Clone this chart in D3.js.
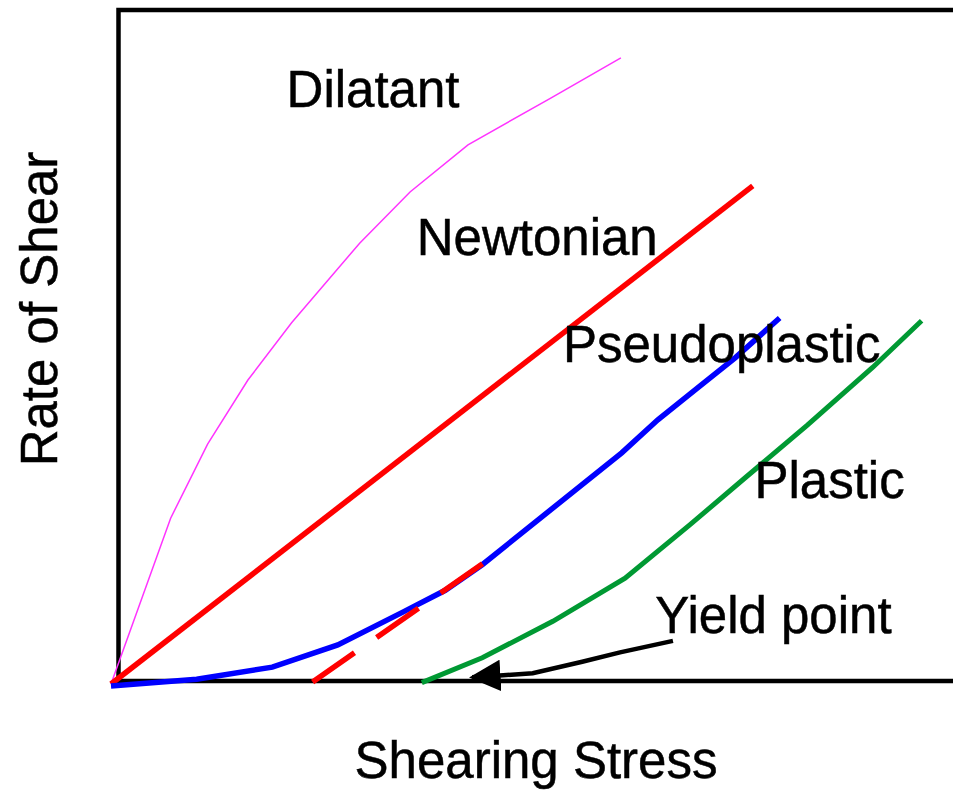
<!DOCTYPE html>
<html>
<head>
<meta charset="utf-8">
<script src="https://cdn.jsdelivr.net/npm/d3@7"></script>
<style>
  body { margin: 0; background: #fff; }
  text { font-family: "Liberation Sans", Arial, sans-serif; fill: #000; stroke: #000; stroke-width: 0.5; }
</style>
</head>
<body>
<div id="chart"></div>
<script>
// Flow curves (stress, rate), both 0..100
var dilatant = [[0,0],[7.1,24.6],[11.5,35.6],[16.3,45.1],[21.5,53.6],[29.6,65.4],
                [35.6,73.0],[42.5,80.0],[52.3,86.9],[60.7,92.9]]
var newtonian = [[0,0],[76.4,73.9]]
var newtonian_ext = [[24.0,0.3],[44.3,17.9]]
var pseudoplastic = [[0,-0.3],[10.2,0.7],[19.2,2.5],[27.0,5.8],[34.8,10.7],[39.8,13.9],
                     [44.2,17.7],[60.8,34.3],[65.1,39.2],[69.8,43.9],[74.3,48.4],[79.6,54.3]]
var plastic = [[37.0,0.2],[44.2,3.9],[52.6,9.3],[61.2,15.7],[68.9,23.6],[75.5,30.6],
               [82.9,38.4],[90.7,47.0],[96.5,53.9]]
var yield_arrow = [[66.9,6.4],[60.6,4.7],[56.1,3.3],[50.2,1.6],[46.7,1.3],[43.0,1.0]]

var labels = [
  {text:"Dilatant", x:20.9, y:85.6},
  {text:"Newtonian", x:36.4, y:63.6},
  {text:"Pseudoplastic", x:53.8, y:47.8},
  {text:"Plastic", x:76.6, y:27.6},
  {text:"Yield point", x:64.8, y:7.5}
]

var width = 953
var height = 791

var x = d3.scaleLinear().domain([0,100]).range([111, 951])
var y = d3.scaleLinear().domain([0,100]).range([684, 10])

var svg = d3.select("#chart").append("svg")
    .attr("width", width)
    .attr("height", height)

var line = d3.line()
    .x(function(d) { return x(d[0]) })
    .y(function(d) { return y(d[1]) })

// frame: left, top and bottom only (right edge is cut off)
svg.append("path")
    .attr("d", "M953,10 H118.5 V681 H953")
    .attr("fill", "none")
    .attr("stroke", "#000")
    .attr("stroke-width", 4.5)

svg.append("path").datum(dilatant)
    .attr("d", line)
    .attr("fill", "none")
    .attr("stroke", "#ff33ff")
    .attr("stroke-width", 1.5)

svg.append("path").datum(newtonian)
    .attr("d", line)
    .attr("fill", "none")
    .attr("stroke", "#ff0000")
    .attr("stroke-width", 5.5)

svg.append("path").datum(pseudoplastic)
    .attr("d", line)
    .attr("fill", "none")
    .attr("stroke", "#0000ff")
    .attr("stroke-width", 5.5)

svg.append("path").datum(newtonian_ext)
    .attr("d", line)
    .attr("fill", "none")
    .attr("stroke", "#ff0000")
    .attr("stroke-width", 5.5)
    .attr("stroke-dasharray", "51,27")

svg.append("path").datum(plastic)
    .attr("d", line)
    .attr("fill", "none")
    .attr("stroke", "#009933")
    .attr("stroke-width", 5)

// arrow to the yield point
svg.append("defs").append("marker")
    .attr("id", "head")
    .attr("viewBox", "0 0 10 10")
    .attr("refX", 9).attr("refY", 5)
    .attr("markerWidth", 7).attr("markerHeight", 7)
    .attr("markerUnits", "strokeWidth")
    .attr("orient", "auto")
  .append("path")
    .attr("d", "M0,0 L10,5 L0,10 Z")
    .attr("fill", "#000")

svg.append("path").datum(yield_arrow)
    .attr("d", line)
    .attr("fill", "none")
    .attr("stroke", "#000")
    .attr("stroke-width", 4.5)
    .attr("marker-end", "url(#head)")

svg.selectAll(".label")
    .data(labels)
    .enter()
    .append("text")
    .attr("class", "label")
    .attr("x", function(d) { return x(d.x) })
    .attr("y", function(d) { return y(d.y) })
    .attr("font-size", 51)
    .text(function(d) { return d.text })

svg.append("text")
    .attr("x", 536)
    .attr("y", 778)
    .attr("text-anchor", "middle")
    .attr("font-size", 51)
    .text("Shearing Stress")

svg.append("text")
    .attr("transform", "translate(57,309) rotate(-90)")
    .attr("text-anchor", "middle")
    .attr("font-size", 51)
    .text("Rate of Shear")
</script>
</body>
</html>
